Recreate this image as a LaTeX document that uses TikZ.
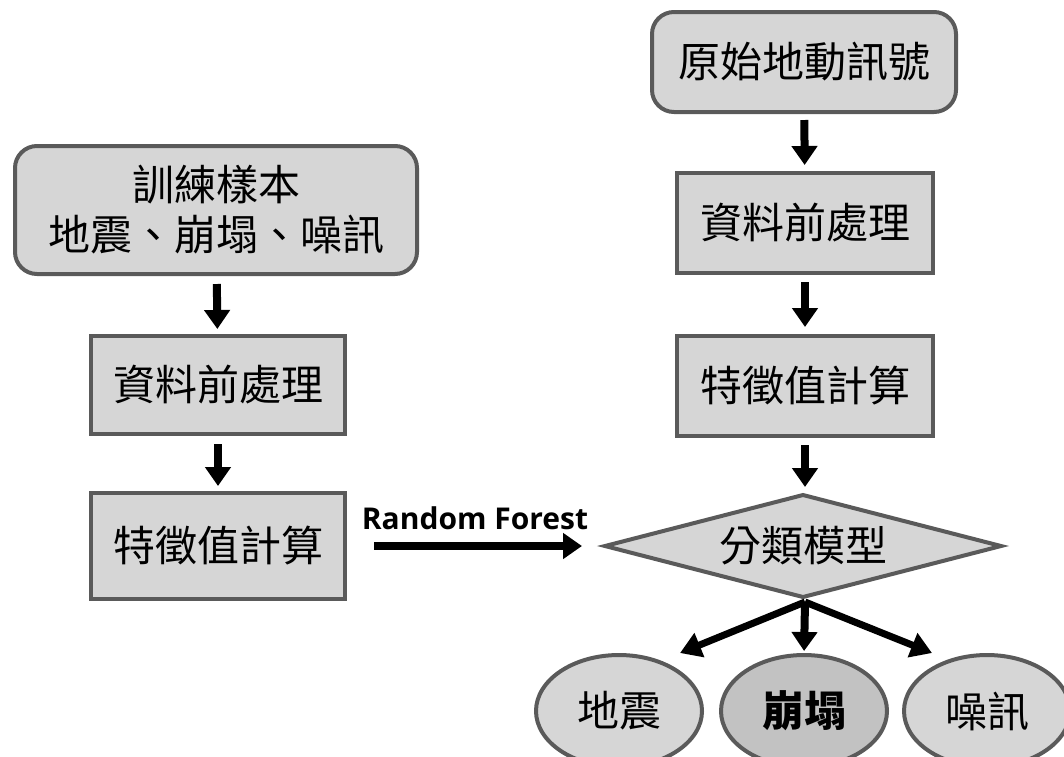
\documentclass[tikz,border=0pt]{standalone}
\usepackage{fontspec}
\newfontfamily\cjk{Noto Sans CJK TC}
\newfontfamily\latinbold{Open Sans}
\usetikzlibrary{shapes.geometric,arrows.meta}
\begin{document}
\begin{tikzpicture}[x=1pt,y=-1pt,
  every node/.style={inner sep=0pt,outer sep=0pt},
  boxbase/.style={draw=boxline,line width=4pt,fill=boxfill,font=\cjk\fontsize{42}{50}\selectfont,align=center},
  roundbox/.style={boxbase,rounded corners=22pt},
  squarebox/.style={boxbase},
  decision/.style={boxbase,diamond,line width=4pt},
  outcome/.style={boxbase,ellipse,minimum width=166pt,minimum height=112pt},
  flow/.style={line width=8pt,-{Triangle[width=25pt,length=19pt]}},
  branch/.style={line width=7pt,-{Triangle[width=25pt,length=21pt]}}
]
\definecolor{boxfill}{HTML}{D6D6D6}
\definecolor{boxline}{HTML}{5A5A5A}
\definecolor{darkfill}{HTML}{C2C2C2}
\useasboundingbox (0,0) rectangle (1064,756);

% training branch
\node[roundbox,minimum width=402pt,minimum height=128pt] (train) at (216,210) {訓練樣本\\地震、崩塌、噪訊};
\node[squarebox,minimum width=254pt,minimum height=98pt] (prepL) at (218,385) {資料前處理};
\node[squarebox,minimum width=254pt,minimum height=106pt] (featL) at (218,546) {特徵值計算};

% classification branch
\node[roundbox,minimum width=304pt,minimum height=100pt] (raw) at (804,62) {原始地動訊號};
\node[squarebox,minimum width=256pt,minimum height=100pt] (prepR) at (805,223) {資料前處理};
\node[squarebox,minimum width=256pt,minimum height=100pt] (featR) at (805,386) {特徵值計算};
\node[decision,minimum width=396pt,minimum height=102pt,aspect=3.8] (model) at (803,546) {分類模型};

% outcomes
\node[outcome] (quake) at (619,711) {地震};
\node[outcome,fill=darkfill,font=\cjk\bfseries\fontsize{42}{50}\selectfont] (slide) at (804,711) {崩塌};
\node[outcome] (noise) at (987,711) {噪訊};

% arrows
\draw[flow,shorten <=10pt,shorten >=7pt] (train) -- (prepL);
\draw[flow,shorten <=10pt,shorten >=7pt] (prepL) -- (featL);
\draw[flow,shorten <=8pt,shorten >=8pt] (raw) -- (prepR);
\draw[flow,shorten <=9pt,shorten >=9pt] (prepR) -- (featR);
\draw[flow,shorten <=9pt,shorten >=8pt] (featR.south) -- (featR.south |- model.north);
\draw[flow,shorten <=29pt,shorten >=23pt] (featL.east) -- node[above=16pt,font=\latinbold\bfseries\fontsize{30}{34}\selectfont] (rf) {Random Forest} (model.west);

\coordinate (fork) at (805,602);
\coordinate (tipL) at (680,653);
\coordinate (tipR) at (932,653);
\draw[branch] (fork) -- (tipL);
\draw[branch] (fork) -- (tipR);
\draw[flow,shorten >=4pt] (fork) -- (slide.north);
\end{tikzpicture}
\end{document}
